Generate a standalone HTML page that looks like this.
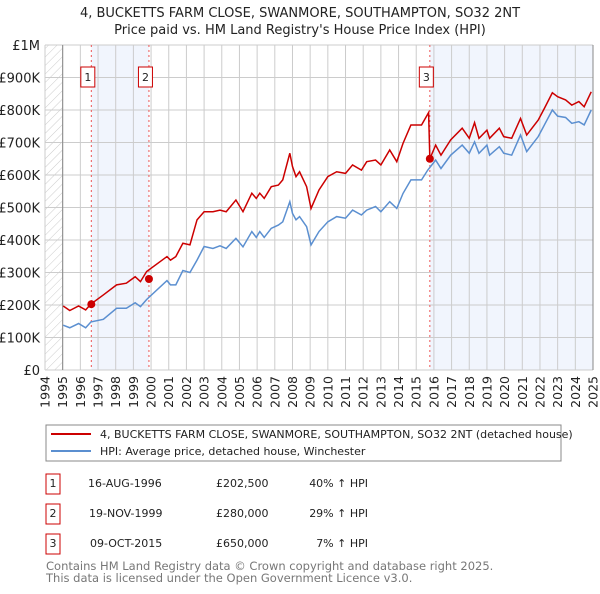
<!DOCTYPE html>
<html><head><meta charset="utf-8"><style>
body{margin:0;background:#fff;font-family:"DejaVu Sans","Liberation Sans",sans-serif;}
svg text{font-family:"DejaVu Sans","Liberation Sans",sans-serif;}
</style></head><body>
<svg id="c" width="600" height="590" xmlns="http://www.w3.org/2000/svg">
<defs><pattern id="hatch" width="6" height="6" patternUnits="userSpaceOnUse" patternTransform="rotate(45)"><line x1="0" y1="0" x2="0" y2="6" stroke="#ccc" stroke-width="1"/></pattern></defs>
<text x="300" y="17" text-anchor="middle" font-size="13" fill="#222">4, BUCKETTS FARM CLOSE, SWANMORE, SOUTHAMPTON, SO32 2NT</text>
<text x="300" y="34" text-anchor="middle" font-size="13" fill="#222">Price paid vs. HM Land Registry's House Price Index (HPI)</text>
<g id="plot"></g>
<g>
<rect x="46" y="425" width="515" height="36" fill="#fff" stroke="#888"/>
<line x1="51" y1="434" x2="91" y2="434" stroke="#cc0000" stroke-width="2"/>
<text x="100" y="438" font-size="11" fill="#222">4, BUCKETTS FARM CLOSE, SWANMORE, SOUTHAMPTON, SO32 2NT (detached house)</text>
<line x1="51" y1="451" x2="91" y2="451" stroke="#5b8fd0" stroke-width="2"/>
<text x="100" y="455" font-size="11" fill="#222">HPI: Average price, detached house, Winchester</text>
</g>
<g font-size="11" fill="#222">
<rect x="46" y="474" width="14" height="20" fill="#fff" stroke="#cc0000"/><text x="53" y="487" text-anchor="middle">1</text>
<text x="88" y="487">16-AUG-1996</text><text x="216" y="487">£202,500</text><text x="368" y="487" text-anchor="end">40% ↑ HPI</text>
<rect x="46" y="504" width="14" height="20" fill="#fff" stroke="#cc0000"/><text x="53" y="517" text-anchor="middle">2</text>
<text x="89" y="517">19-NOV-1999</text><text x="216" y="517">£280,000</text><text x="368" y="517" text-anchor="end">29% ↑ HPI</text>
<rect x="46" y="534" width="14" height="20" fill="#fff" stroke="#cc0000"/><text x="53" y="547" text-anchor="middle">3</text>
<text x="90" y="547">09-OCT-2015</text><text x="216" y="547">£650,000</text><text x="368" y="547" text-anchor="end">7% ↑ HPI</text>
</g>
<text x="46" y="570" font-size="11.5" fill="#777">Contains HM Land Registry data © Crown copyright and database right 2025.</text>
<text x="46" y="582" font-size="11.5" fill="#777">This data is licensed under the Open Government Licence v3.0.</text>
</svg>
<script>
const yTicks=[0,100000,200000,300000,400000,500000,600000,700000,800000,900000,1000000];
const yTickLabels=["£0","£100K","£200K","£300K","£400K","£500K","£600K","£700K","£800K","£900K","£1M"];
const years=[1994,1995,1996,1997,1998,1999,2000,2001,2002,2003,2004,2005,2006,2007,2008,2009,2010,2011,2012,2013,2014,2015,2016,2017,2018,2019,2020,2021,2022,2023,2024,2025];
const hpiDates=[1995.03,1995.4,1995.9,1996.3,1996.6,1997.3,1998.05,1998.6,1999.1,1999.4,1999.75,2000.9,2001.1,2001.4,2001.8,2002.2,2002.6,2003.0,2003.5,2003.9,2004.25,2004.8,2005.2,2005.7,2005.95,2006.15,2006.4,2006.8,2007.2,2007.45,2007.85,2008.0,2008.2,2008.4,2008.8,2009.05,2009.5,2010.0,2010.5,2011.0,2011.4,2011.9,2012.2,2012.7,2013.0,2013.5,2013.9,2014.25,2014.7,2015.3,2015.65,2016.1,2016.4,2016.95,2017.6,2018.0,2018.3,2018.55,2019.0,2019.15,2019.7,2019.95,2020.4,2020.9,2021.25,2021.9,2022.25,2022.7,2023.0,2023.45,2023.8,2024.2,2024.5,2024.9];
const hpiValues=[138,130,143,130,148,156,190,190,207,195,217,275,262,262,306,300,338,380,374,382,374,405,379,426,408,426,408,436,446,456,518,482,462,472,441,385,426,456,472,467,492,477,492,503,487,518,497,543,585,585,615,646,620,661,692,667,702,667,692,661,687,667,661,723,672,718,754,800,781,777,759,764,754,800];
const priceDates=[1995.03,1995.4,1995.9,1996.3,1996.6,1997.3,1998.05,1998.6,1999.1,1999.4,1999.75,2000.9,2001.1,2001.4,2001.8,2002.2,2002.6,2003.0,2003.5,2003.9,2004.25,2004.8,2005.2,2005.7,2005.95,2006.15,2006.4,2006.8,2007.2,2007.45,2007.85,2008.0,2008.2,2008.4,2008.8,2009.05,2009.5,2010.0,2010.5,2011.0,2011.4,2011.9,2012.2,2012.7,2013.0,2013.5,2013.9,2014.25,2014.7,2015.3,2015.7,2015.77,2016.1,2016.4,2016.95,2017.6,2018.0,2018.3,2018.55,2019.0,2019.15,2019.7,2019.95,2020.4,2020.9,2021.25,2021.9,2022.25,2022.7,2023.0,2023.45,2023.8,2024.2,2024.5,2024.9];
const priceValues=[197,183,197,185,203,231,262,267,287,272,303,349,338,349,390,385,462,487,487,492,487,523,487,544,528,544,528,564,569,585,667,626,595,610,564,497,554,595,610,605,631,615,641,646,631,677,641,697,754,754,792,650,692,661,708,744,713,761,713,738,713,744,718,713,774,723,769,805,853,841,831,815,826,810,856];
const saleDates=[1996.62,1999.88,2015.77];
const salePrices=[202500,280000,650000];
const saleLabels=["1","2","3"];

const NS="http://www.w3.org/2000/svg";
const X0=45,X1=593,Y0=370,Y1=45;
const xs=y=>X0+(y-1994)/(2025-1994)*(X1-X0);
const ys=v=>Y0-v/1000000*(Y0-Y1);
const plot=document.getElementById('plot');
function mk(t,a,p){const e=document.createElementNS(NS,t);for(const k in a)e.setAttribute(k,a[k]);(p||plot).appendChild(e);return e;}

const hatch=mk('rect',{x:X0,y:Y1,width:xs(1995)-X0,height:Y0-Y1,fill:'url(#hatch)'});


const s1=mk('rect',{x:xs(saleDates[0]),y:Y1,width:xs(saleDates[1])-xs(saleDates[0]),height:Y0-Y1,fill:'#eef3fc',opacity:0.8});


const s3=mk('rect',{x:xs(saleDates[2]),y:Y1,width:X1-xs(saleDates[2]),height:Y0-Y1,fill:'#eef3fc',opacity:0.8});



yTicks.forEach((v,i)=>{
 const g=mk('line',{x1:X0,x2:X1,y1:ys(v),y2:ys(v),stroke:'#ccc','stroke-width':1});
 
 
 const t=mk('text',{x:40,y:ys(v)+5,'text-anchor':'end','font-size':13,fill:'#222'});
 t.textContent=yTickLabels[i];
 
 
});
years.forEach(yr=>{
 const g=mk('line',{x1:xs(yr),x2:xs(yr),y1:Y1,y2:Y0,stroke:'#ccc','stroke-width':1});
 
 
 const t=mk('text',{transform:`translate(${xs(yr)+4.5},376) rotate(-90)`,'text-anchor':'end','font-size':12.5,fill:'#222'});
 t.textContent=yr;
 
 
});
const ax=mk('line',{x1:xs(1995),x2:xs(1995),y1:Y1,y2:Y0,stroke:'#888'});


const ax2=mk('line',{x1:X1,x2:X1,y1:Y1,y2:Y0,stroke:'#888'});



saleDates.forEach((d,i)=>{
 const l=mk('line',{x1:xs(d),x2:xs(d),y1:Y1,y2:Y0,stroke:'#e55','stroke-width':1,'stroke-dasharray':'2,3'});
 
 
});

const hp=mk('polyline',{points:hpiDates.map((d,i)=>xs(d)+','+ys(hpiValues[i]*1000)).join(' '),fill:'none',stroke:'#5b8fd0','stroke-width':1.5});


const pp=mk('polyline',{points:priceDates.map((d,i)=>xs(d)+','+ys(priceValues[i]*1000)).join(' '),fill:'none',stroke:'#cc0000','stroke-width':1.5});



saleDates.forEach((d,i)=>{
 const c=mk('circle',{cx:xs(d),cy:ys(salePrices[i]),r:4,fill:'#cc0000'});
 
 
 const r=mk('rect',{x:xs(d)-10.5,y:67,width:14,height:20,fill:'#fff',stroke:'#cc0000'});
 
 
 const t=mk('text',{x:xs(d)-3.5,y:81,'text-anchor':'middle','font-size':11,fill:'#222'});
 t.textContent=saleLabels[i];
 
 
});
</script>
</body></html>
